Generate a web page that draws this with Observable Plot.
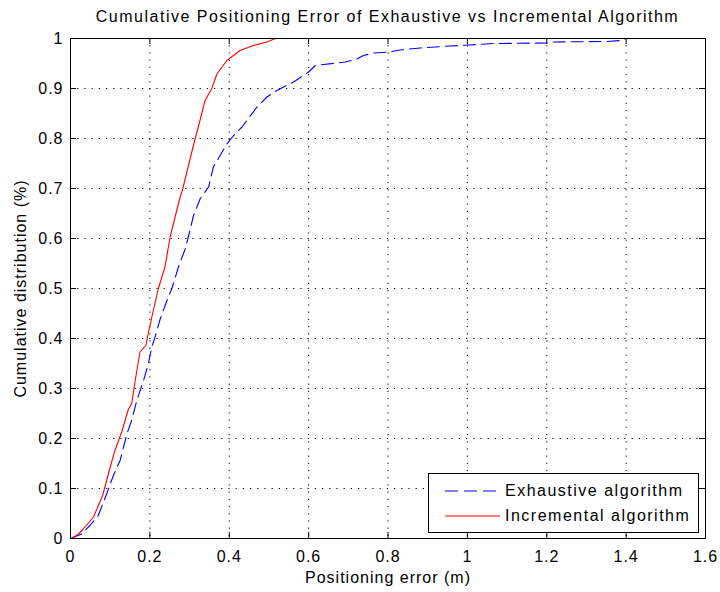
<!DOCTYPE html>
<html>
<head>
<meta charset="utf-8">
<script src="https://cdn.jsdelivr.net/npm/d3@7"></script>
<script src="https://cdn.jsdelivr.net/npm/@observablehq/plot@0.6"></script>
<style>
  html, body { margin: 0; padding: 0; background: #fff; }
  #wrap { position: relative; width: 720px; height: 592px; font-family: "Liberation Sans", Arial, sans-serif; }
  #title { position: absolute; left: 70px; width: 635px; top: 8px; text-align: center; font-size: 16px; letter-spacing: 1.5px; color: #000; }
  #legend { position: absolute; left: 428px; top: 473px; width: 269px; height: 58px; border: 1px solid #000; background: #fff; }
  .row { position: absolute; left: 0; height: 20px; display: flex; align-items: center; font-size: 16px; letter-spacing: 1.5px; white-space: nowrap; }
  .row svg { margin-left: 16px; margin-right: 5px; }
</style>
</head>
<body>
<div id="wrap">
  <div id="chart"></div>
  <div id="title"></div>
  <div id="legend"></div>
</div>
<script>
const titleText = "Cumulative Positioning Error of Exhaustive vs Incremental Algorithm";
const xLabel = "Positioning error (m)";
const yLabel = "Cumulative distribution (%)";
const seriesNames = ["Exhaustive algorithm", "Incremental algorithm"];
const seriesColors = ["#0000ff", "#ff0000"];

const xTicks = [0, 0.2, 0.4, 0.6, 0.8, 1, 1.2, 1.4, 1.6];
const yTicks = [0, 0.1, 0.2, 0.3, 0.4, 0.5, 0.6, 0.7, 0.8, 0.9, 1];

const exhaustiveX = [0, 0.028, 0.049, 0.070, 0.091, 0.108, 0.125, 0.142, 0.154, 0.167, 0.184, 0.196, 0.205, 0.213, 0.226, 0.243, 0.255, 0.272, 0.289, 0.301, 0.310, 0.327, 0.348, 0.360, 0.394, 0.411, 0.432, 0.470, 0.495, 0.520, 0.562, 0.600, 0.617, 0.692, 0.722, 0.738, 0.764, 0.801, 0.831, 0.881, 0.957, 1.003, 1.066, 1.200, 1.209, 1.352, 1.386, 1.400];
const exhaustiveY = [0, 0.009, 0.026, 0.046, 0.089, 0.126, 0.156, 0.209, 0.236, 0.276, 0.316, 0.349, 0.383, 0.403, 0.439, 0.476, 0.499, 0.543, 0.579, 0.616, 0.646, 0.680, 0.703, 0.743, 0.789, 0.806, 0.823, 0.863, 0.883, 0.896, 0.913, 0.933, 0.946, 0.953, 0.959, 0.966, 0.971, 0.973, 0.977, 0.981, 0.985, 0.987, 0.990, 0.991, 0.993, 0.994, 0.996, 1.000];

const incrementalX = [0, 0.003, 0.020, 0.032, 0.058, 0.081, 0.100, 0.112, 0.129, 0.146, 0.154, 0.163, 0.175, 0.190, 0.194, 0.205, 0.221, 0.238, 0.251, 0.274, 0.283, 0.314, 0.322, 0.339, 0.356, 0.369, 0.394, 0.427, 0.461, 0.495, 0.516];
const incrementalY = [0, 0, 0.009, 0.019, 0.043, 0.086, 0.143, 0.176, 0.213, 0.259, 0.269, 0.316, 0.373, 0.386, 0.403, 0.443, 0.499, 0.543, 0.603, 0.676, 0.700, 0.800, 0.823, 0.876, 0.900, 0.929, 0.956, 0.976, 0.986, 0.993, 1.000];

const exhaustive = exhaustiveX.map((x, i) => ({x, y: exhaustiveY[i]}));
const incremental = incrementalX.map((x, i) => ({x, y: incrementalY[i]}));

const tickLen = 6;
const W = 720, H = 592, mT = 38, mB = 54, mL = 70, mR = 15;
const innerH = H - mT - mB, innerW = W - mL - mR;

const fmt = d => String(d);

const chart = Plot.plot({
  width: W, height: H,
  marginTop: mT, marginBottom: mB, marginLeft: mL, marginRight: mR,
  style: { fontFamily: "Liberation Sans, Arial, sans-serif", fontSize: "16px", background: "#fff", color: "#000" },
  x: { domain: [0, 1.6] },
  y: { domain: [0, 1] },
  marks: [
    Plot.gridX(xTicks, { stroke: "#000", strokeOpacity: 1, strokeWidth: 1, strokeDasharray: "1.2,6" }),
    Plot.gridY(yTicks, { stroke: "#000", strokeOpacity: 1, strokeWidth: 1, strokeDasharray: "1.2,6" }),
    Plot.tickX(xTicks, { x: d => d, insetTop: innerH - tickLen, stroke: "#000" }),
    Plot.tickX(xTicks, { x: d => d, insetBottom: innerH - tickLen, stroke: "#000" }),
    Plot.tickY(yTicks, { y: d => d, insetRight: innerW - tickLen, stroke: "#000" }),
    Plot.tickY(yTicks, { y: d => d, insetLeft: innerW - tickLen, stroke: "#000" }),
    Plot.line(exhaustive, { x: "x", y: "y", stroke: seriesColors[0], strokeWidth: 1.1, strokeDasharray: "12,6" }),
    Plot.line(incremental, { x: "x", y: "y", stroke: seriesColors[1], strokeWidth: 1.1 }),
    Plot.frame({ stroke: "#000", strokeWidth: 1 }),
    Plot.axisX(xTicks, { tickSize: 0, tickPadding: 12, tickFormat: fmt, label: xLabel, labelAnchor: "center", labelOffset: 44, labelArrow: "none", fontSize: 16 }),
    Plot.axisY(yTicks, { tickSize: 0, tickPadding: 7, tickFormat: fmt, label: yLabel, labelAnchor: "center", labelOffset: 56, labelArrow: "none", fontSize: 16 })
  ]
});
chart.style.letterSpacing = "1px";
document.getElementById("chart").appendChild(chart);
document.getElementById("title").textContent = titleText;

const legend = document.getElementById("legend");
seriesNames.forEach((name, i) => {
  const row = document.createElement("div");
  row.className = "row";
  row.style.top = (7 + i * 25) + "px";
  const dash = i === 0 ? 'stroke-dasharray="13,6"' : "";
  row.innerHTML = `<svg width="55" height="4"><line x1="0" y1="2" x2="55" y2="2" stroke="${seriesColors[i]}" stroke-width="1.2" ${dash}/></svg><span></span>`;
  row.querySelector("span").textContent = name;
  legend.appendChild(row);
});
</script>
</body>
</html>
